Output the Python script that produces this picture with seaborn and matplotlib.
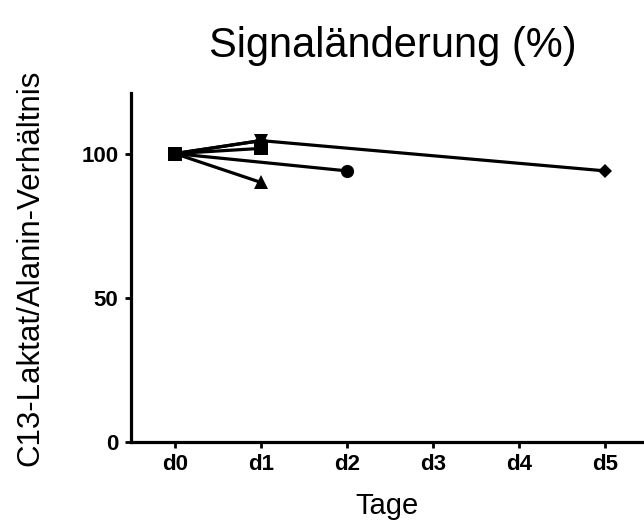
import pandas as pd
import numpy as np
import seaborn as sns
import matplotlib.pyplot as plt

# values
tage = ["d0", "d1", "d2", "d3", "d4", "d5"]
raute_tag = [0, 1, 5]
raute_wert = [100, 104.5, 94]
dreieck_ab_tag = [0, 1]
dreieck_ab_wert = [100, 104.5]
kreis_tag = [0, 2]
kreis_wert = [100, 94]
dreieck_tag = [0, 1]
dreieck_wert = [100, 90]
quadrat_tag = [0, 1]
quadrat_wert = [100, 101.8]

serien = [
    (raute_tag, raute_wert, "D", 7.5),
    (dreieck_ab_tag, dreieck_ab_wert, "v", 10),
    (kreis_tag, kreis_wert, "o", 9.5),
    (dreieck_tag, dreieck_wert, "^", 9.5),
    (quadrat_tag, quadrat_wert, "s", 10),
]

sns.set_style("ticks")
plt.rcParams['font.family'] = ['Liberation Sans', 'DejaVu Sans']
plt.rcParams['text.color'] = 'black'
plt.rcParams['axes.labelcolor'] = 'black'

fig = plt.figure(figsize=(6.44, 5.22), dpi=100)
ax = fig.add_axes([0.2034, 0.1533, 0.7966, 0.6685])

for tag, wert, marker, ms in serien:
    sns.lineplot(x=tag, y=wert, color="black", marker=marker, markersize=ms,
                 markeredgewidth=0, linewidth=2.3, ax=ax)

ax.set_xlim(-0.51, 5.45)
ax.set_ylim(0, 121)
ax.set_xticks(range(len(tage)))
ax.set_xticklabels(tage, fontweight="bold", fontsize=16)
ax.set_yticks([0, 50, 100])
ax.set_yticklabels(["0", "50", "100"], fontweight="bold", fontsize=16)
ax.tick_params(width=2, length=4, direction="out", colors="black", pad=5)
for s in ["left", "bottom"]:
    ax.spines[s].set_linewidth(2.3)
    ax.spines[s].set_color("black")
sns.despine(ax=ax)

ax.set_xlabel("Tage", fontsize=21, labelpad=12)
ax.set_ylabel("C13-Laktat/Alanin-Verhältnis", fontsize=22.5, labelpad=26)
fig.suptitle("Signaländerung (%)", fontsize=30, x=0.61, y=0.95)

fig.savefig("out.png", dpi=100)
